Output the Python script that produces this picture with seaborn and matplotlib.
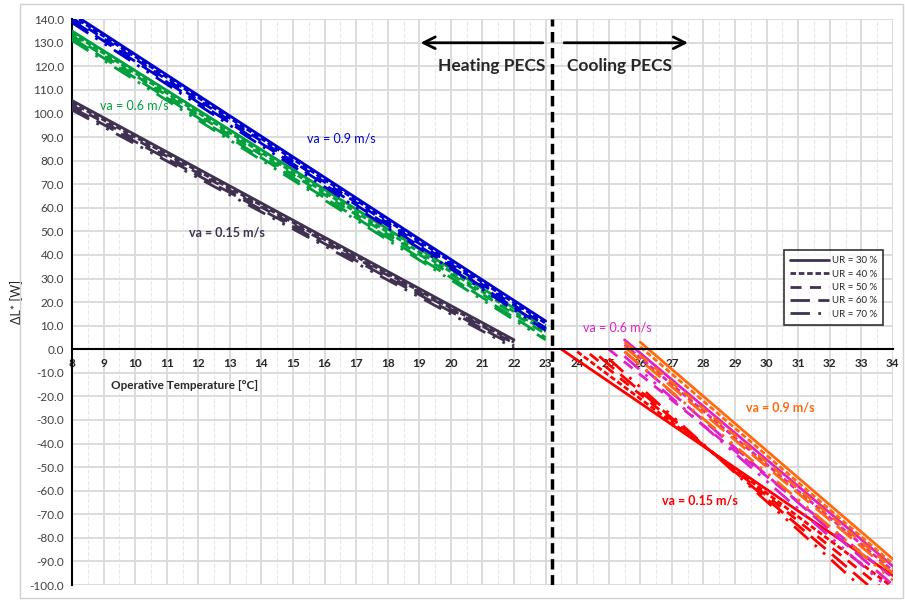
import numpy as np
import pandas as pd
import matplotlib
matplotlib.use("Agg")
import matplotlib.pyplot as plt
import seaborn as sns
from matplotlib.ticker import MultipleLocator
from matplotlib.patches import Rectangle

# === Data ===
ur_labels = ["UR = 30 %", "UR = 40 %", "UR = 50 %", "UR = 60 %", "UR = 70 %"]

# heating side (start/end points of each straight line)
heat_015_x = [8, 22]
heat_015_start = [105.5, 104.5, 103.5, 102.5, 101.5]
heat_015_end = [4.0, 3.0, 2.5, 1.5, 0.5]

heat_06_x = [8, 23]
heat_06_start = [135.0, 134.0, 133.0, 132.0, 131.0]
heat_06_end = [9.0, 7.5, 6.5, 5.0, 4.0]

heat_09_x = [8, 23]
heat_09_start = [142.5, 141.5, 140.5, 139.5, 138.5]
heat_09_end = [12.0, 11.0, 10.0, 9.0, 8.0]

# cooling side: start temperature/value, end value at 34 °C
cool_end_x = 34
cool_015_x0 = [23.5, 24.0, 24.4, 24.7, 25.0]
cool_015_y0 = [0.0, -1.0, -2.0, -3.0, -4.0]
cool_015_y1 = [-96.0, -101.0, -105.0, -109.0, -113.0]

cool_06_x0 = [25.5, 25.5, 25.0, 25.5, 25.5]
cool_06_y0 = [4.0, 2.0, 0.0, -1.0, -3.0]
cool_06_y1 = [-92.0, -94.0, -97.0, -100.0, -103.0]

cool_09_x0 = [26.0, 26.0, 25.5, 25.5, 25.5]
cool_09_y0 = [3.0, 1.0, 3.0, 1.0, -1.0]
cool_09_y1 = [-89.0, -91.0, -93.0, -95.0, -98.0]

# === Styles ===
c_purple = "#403151"
c_green = "#00a03c"
c_blue = "#0000cc"
c_red = "#ff0000"
c_magenta = "#e020c8"
c_orange = "#ff6a10"
dash_styles = ["-", (0, (2, 1)), (0, (4, 3)), (0, (7, 3)), (0, (7, 3, 1, 3, 1, 3))]

sns.set_theme(style="white")
plt.rcParams['font.family'] = ['Lato', 'DejaVu Sans']

fig = plt.figure(figsize=(9.05, 6.0), dpi=100)
ax = fig.add_axes([0.0796, 0.025, 0.907, 0.943])
fig.patches.append(Rectangle((0.022, 0.003), 0.976, 0.99, transform=fig.transFigure,
                             fill=False, edgecolor="#d0d0d0", lw=1.0))

lw = 2.0


def draw(x0, x1, y0, y1, color, ls, label=None):
    df = pd.DataFrame({"T": [x0, x1], "L": [y0, y1]})
    sns.lineplot(data=df, x="T", y="L", ax=ax, color=color, linestyle=ls,
                 lw=lw, label=label, legend=False, zorder=3)


for i in range(5):
    draw(heat_015_x[0], heat_015_x[1], heat_015_start[i], heat_015_end[i], c_purple, dash_styles[i])
    draw(heat_06_x[0], heat_06_x[1], heat_06_start[i], heat_06_end[i], c_green, dash_styles[i])
    draw(heat_09_x[0], heat_09_x[1], heat_09_start[i], heat_09_end[i], c_blue, dash_styles[i])
    draw(cool_06_x0[i], cool_end_x, cool_06_y0[i], cool_06_y1[i], c_magenta, dash_styles[i])
    draw(cool_09_x0[i], cool_end_x, cool_09_y0[i], cool_09_y1[i], c_orange, dash_styles[i])
    draw(cool_015_x0[i], cool_end_x, cool_015_y0[i], cool_015_y1[i], c_red, dash_styles[i])

# === Axes ===
ax.set_xlim(8, 34)
ax.set_ylim(-100, 140)
ax.xaxis.set_major_locator(MultipleLocator(1))
ax.xaxis.set_minor_locator(MultipleLocator(0.5))
ax.yaxis.set_major_locator(MultipleLocator(10))
ax.grid(which="major", color="#d9d9d9", lw=1.3, zorder=0)
ax.grid(which="minor", axis="x", color="#e8e8e8", lw=0.8, linestyle="--", zorder=0)
for s in ["top", "right"]:
    ax.spines[s].set_visible(False)
ax.spines["left"].set_color("black")
ax.spines["left"].set_linewidth(1.5)
ax.spines["bottom"].set_position(("data", 0))
ax.spines["bottom"].set_color("black")
ax.spines["bottom"].set_linewidth(1.5)
ax.spines["bottom"].set_zorder(4)
ax.tick_params(axis="both", which="both", length=0)
ax.tick_params(axis="x", pad=6, labelsize=8.5)
ax.tick_params(axis="y", pad=6, labelsize=8.5, labelcolor="#404040")
for t in ax.get_xticklabels():
    t.set_fontweight("bold")
ax.set_yticks(np.arange(-100, 141, 10))
ax.set_yticklabels([f"{v:.1f}" for v in np.arange(-100, 141, 10)])
ax.set_xlabel("")
ax.set_ylabel("ΔL* [W]", fontsize=9, labelpad=4)
ax.text(11.55, -15.3, "Operative Temperature [°C]", fontsize=8.5, fontweight="bold",
        ha="center", va="center")

# divider and arrows
ax.axvline(23.2, color="black", lw=2.5, linestyle=(0, (3, 1.6)), zorder=5)
ax.annotate("", xy=(18.95, 130), xytext=(23.0, 130),
            arrowprops=dict(arrowstyle="->,head_width=0.35,head_length=0.7", lw=2, color="black"))
ax.annotate("", xy=(27.6, 130), xytext=(23.5, 130),
            arrowprops=dict(arrowstyle="->,head_width=0.35,head_length=0.7", lw=2, color="black"))
ax.text(21.3, 120.3, "Heating PECS", fontsize=12.5, fontweight="bold", ha="center", va="center")
ax.text(25.35, 120.3, "Cooling PECS", fontsize=12.5, fontweight="bold", ha="center", va="center")

# va annotations
ax.text(8.9, 103.5, "va = 0.6 m/s", color=c_green, fontsize=9, va="center")
ax.text(15.45, 89.5, "va = 0.9 m/s", color=c_blue, fontsize=9, va="center")
ax.text(11.7, 49.6, "va = 0.15 m/s", color=c_purple, fontsize=9, fontweight="bold", va="center")
ax.text(24.2, 9.3, "va = 0.6 m/s", color=c_magenta, fontsize=9, va="center")
ax.text(29.35, -24.6, "va = 0.9 m/s", color=c_orange, fontsize=9, fontweight="bold", va="center")
ax.text(26.7, -64.0, "va = 0.15 m/s", color=c_red, fontsize=9, fontweight="bold", va="center")

# legend (purple handles)
handles = [plt.Line2D([], [], color=c_purple, lw=lw, linestyle=dash_styles[i]) for i in range(5)]
leg = ax.legend(handles, ur_labels, loc="upper right", bbox_to_anchor=(0.994, 0.60),
                fontsize=7, frameon=True, fancybox=False, edgecolor="black",
                handlelength=4, labelspacing=0.45, borderpad=0.6, handletextpad=0.3)
leg.get_frame().set_linewidth(1.2)
leg.set_zorder(6)

fig.savefig("out.png", dpi=100)
